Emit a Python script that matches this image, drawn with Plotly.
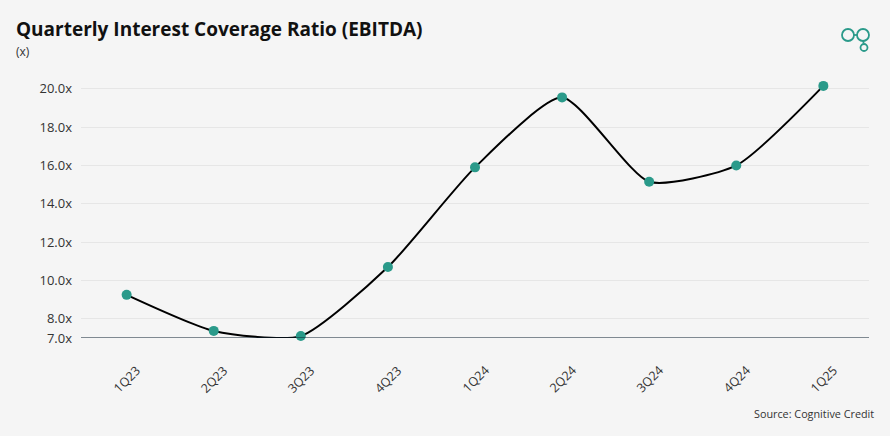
import plotly.graph_objects as go

quarters = ["1Q23", "2Q23", "3Q23", "4Q23", "1Q24", "2Q24", "3Q24", "4Q24", "1Q25"]
coverage = [9.25, 7.37, 7.1, 10.7, 15.9, 19.55, 15.15, 16.0, 20.15]

tick_vals = [7, 8, 10, 12, 14, 16, 18, 20]
tick_text = [f"{v:.1f}x" for v in tick_vals]

TEAL = "#2a9a8a"
BG = "#f5f5f5"
FONT = "Open Sans"

W, H = 890, 436
ML, MR, MT, MB = 81, 21, 83, 98
PW, PH = W - ML - MR, H - MT - MB


def px_x(x):
    return (x - ML) / PW


def px_y(y):
    return (H - MB - y) / PH


fig = go.Figure()

fig.add_trace(go.Scatter(
    x=quarters,
    y=coverage,
    mode="lines+markers",
    line=dict(color="black", width=2, shape="spline", smoothing=0.6),
    marker=dict(color=TEAL, size=10),
    cliponaxis=False,
    showlegend=False,
))

# rotated quarter labels, centred under each tick
annotations = [
    dict(text=q, x=q, xref="x", yref="paper", y=px_y(379),
         xanchor="center", yanchor="middle", textangle=-45, showarrow=False,
         font=dict(size=12.5, color="#333333", family=FONT))
    for q in quarters
]

annotations += [
    dict(text="<b>Quarterly Interest Coverage Ratio (EBITDA)</b>",
         xref="paper", yref="paper", x=px_x(14), y=px_y(44),
         xanchor="left", yanchor="bottom",
         showarrow=False, font=dict(size=19, color="#111111", family=FONT)),
    dict(text="(x)", xref="paper", yref="paper", x=px_x(14), y=px_y(62),
         xanchor="left", yanchor="bottom",
         showarrow=False, font=dict(size=12, color="#333333", family=FONT)),
    dict(text="Source: Cognitive Credit", xref="paper", yref="paper",
         x=px_x(876), y=px_y(423), xanchor="right", yanchor="bottom",
         showarrow=False, font=dict(size=10.8, color="#333333", family=FONT)),
]

fig.update_layout(
    width=W,
    height=H,
    paper_bgcolor=BG,
    plot_bgcolor=BG,
    font=dict(family=FONT, size=12, color="#333333"),
    margin=dict(l=ML, r=MR, t=MT, b=MB),
    xaxis=dict(
        showgrid=False,
        ticks="",
        showticklabels=False,
    ),
    yaxis=dict(
        range=[7, 20.3],
        tickvals=tick_vals + [20.3],
        ticktext=tick_text + [""],
        gridcolor="#e6e6e6",
        gridwidth=1,
        zeroline=False,
        showline=False,
        ticks="",
        ticklabelstandoff=8,
        tickfont=dict(size=13, color="#333333"),
    ),
    annotations=annotations,
)

# baseline at 7.0x
fig.add_shape(type="line", xref="paper", yref="y", x0=0, x1=1, y0=7, y1=7,
              line=dict(color="#0b1f2e", width=1.2))

# logo, top right
for cx, cy, r in [(848, 35, 6), (863, 35, 6), (864, 47.5, 3.5)]:
    fig.add_shape(type="circle", xref="paper", yref="paper",
                  xsizemode="pixel", ysizemode="pixel",
                  xanchor=px_x(cx), yanchor=px_y(cy),
                  x0=-r, x1=r, y0=-r, y1=r,
                  line=dict(color=TEAL, width=1.8))
fig.add_shape(type="line", xref="paper", yref="paper",
              xsizemode="pixel", ysizemode="pixel",
              xanchor=px_x(855.5), yanchor=px_y(35),
              x0=-1.5, x1=1.5, y0=0, y1=0, line=dict(color=TEAL, width=1.8))
fig.add_shape(type="line", xref="paper", yref="paper",
              xsizemode="pixel", ysizemode="pixel",
              xanchor=px_x(863.5), yanchor=px_y(42),
              x0=0, x1=0, y0=-1, y1=1, line=dict(color=TEAL, width=1.8))

fig.write_html("out.html", config={"displayModeBar": False},
               post_script="document.body.style.margin='0';")
